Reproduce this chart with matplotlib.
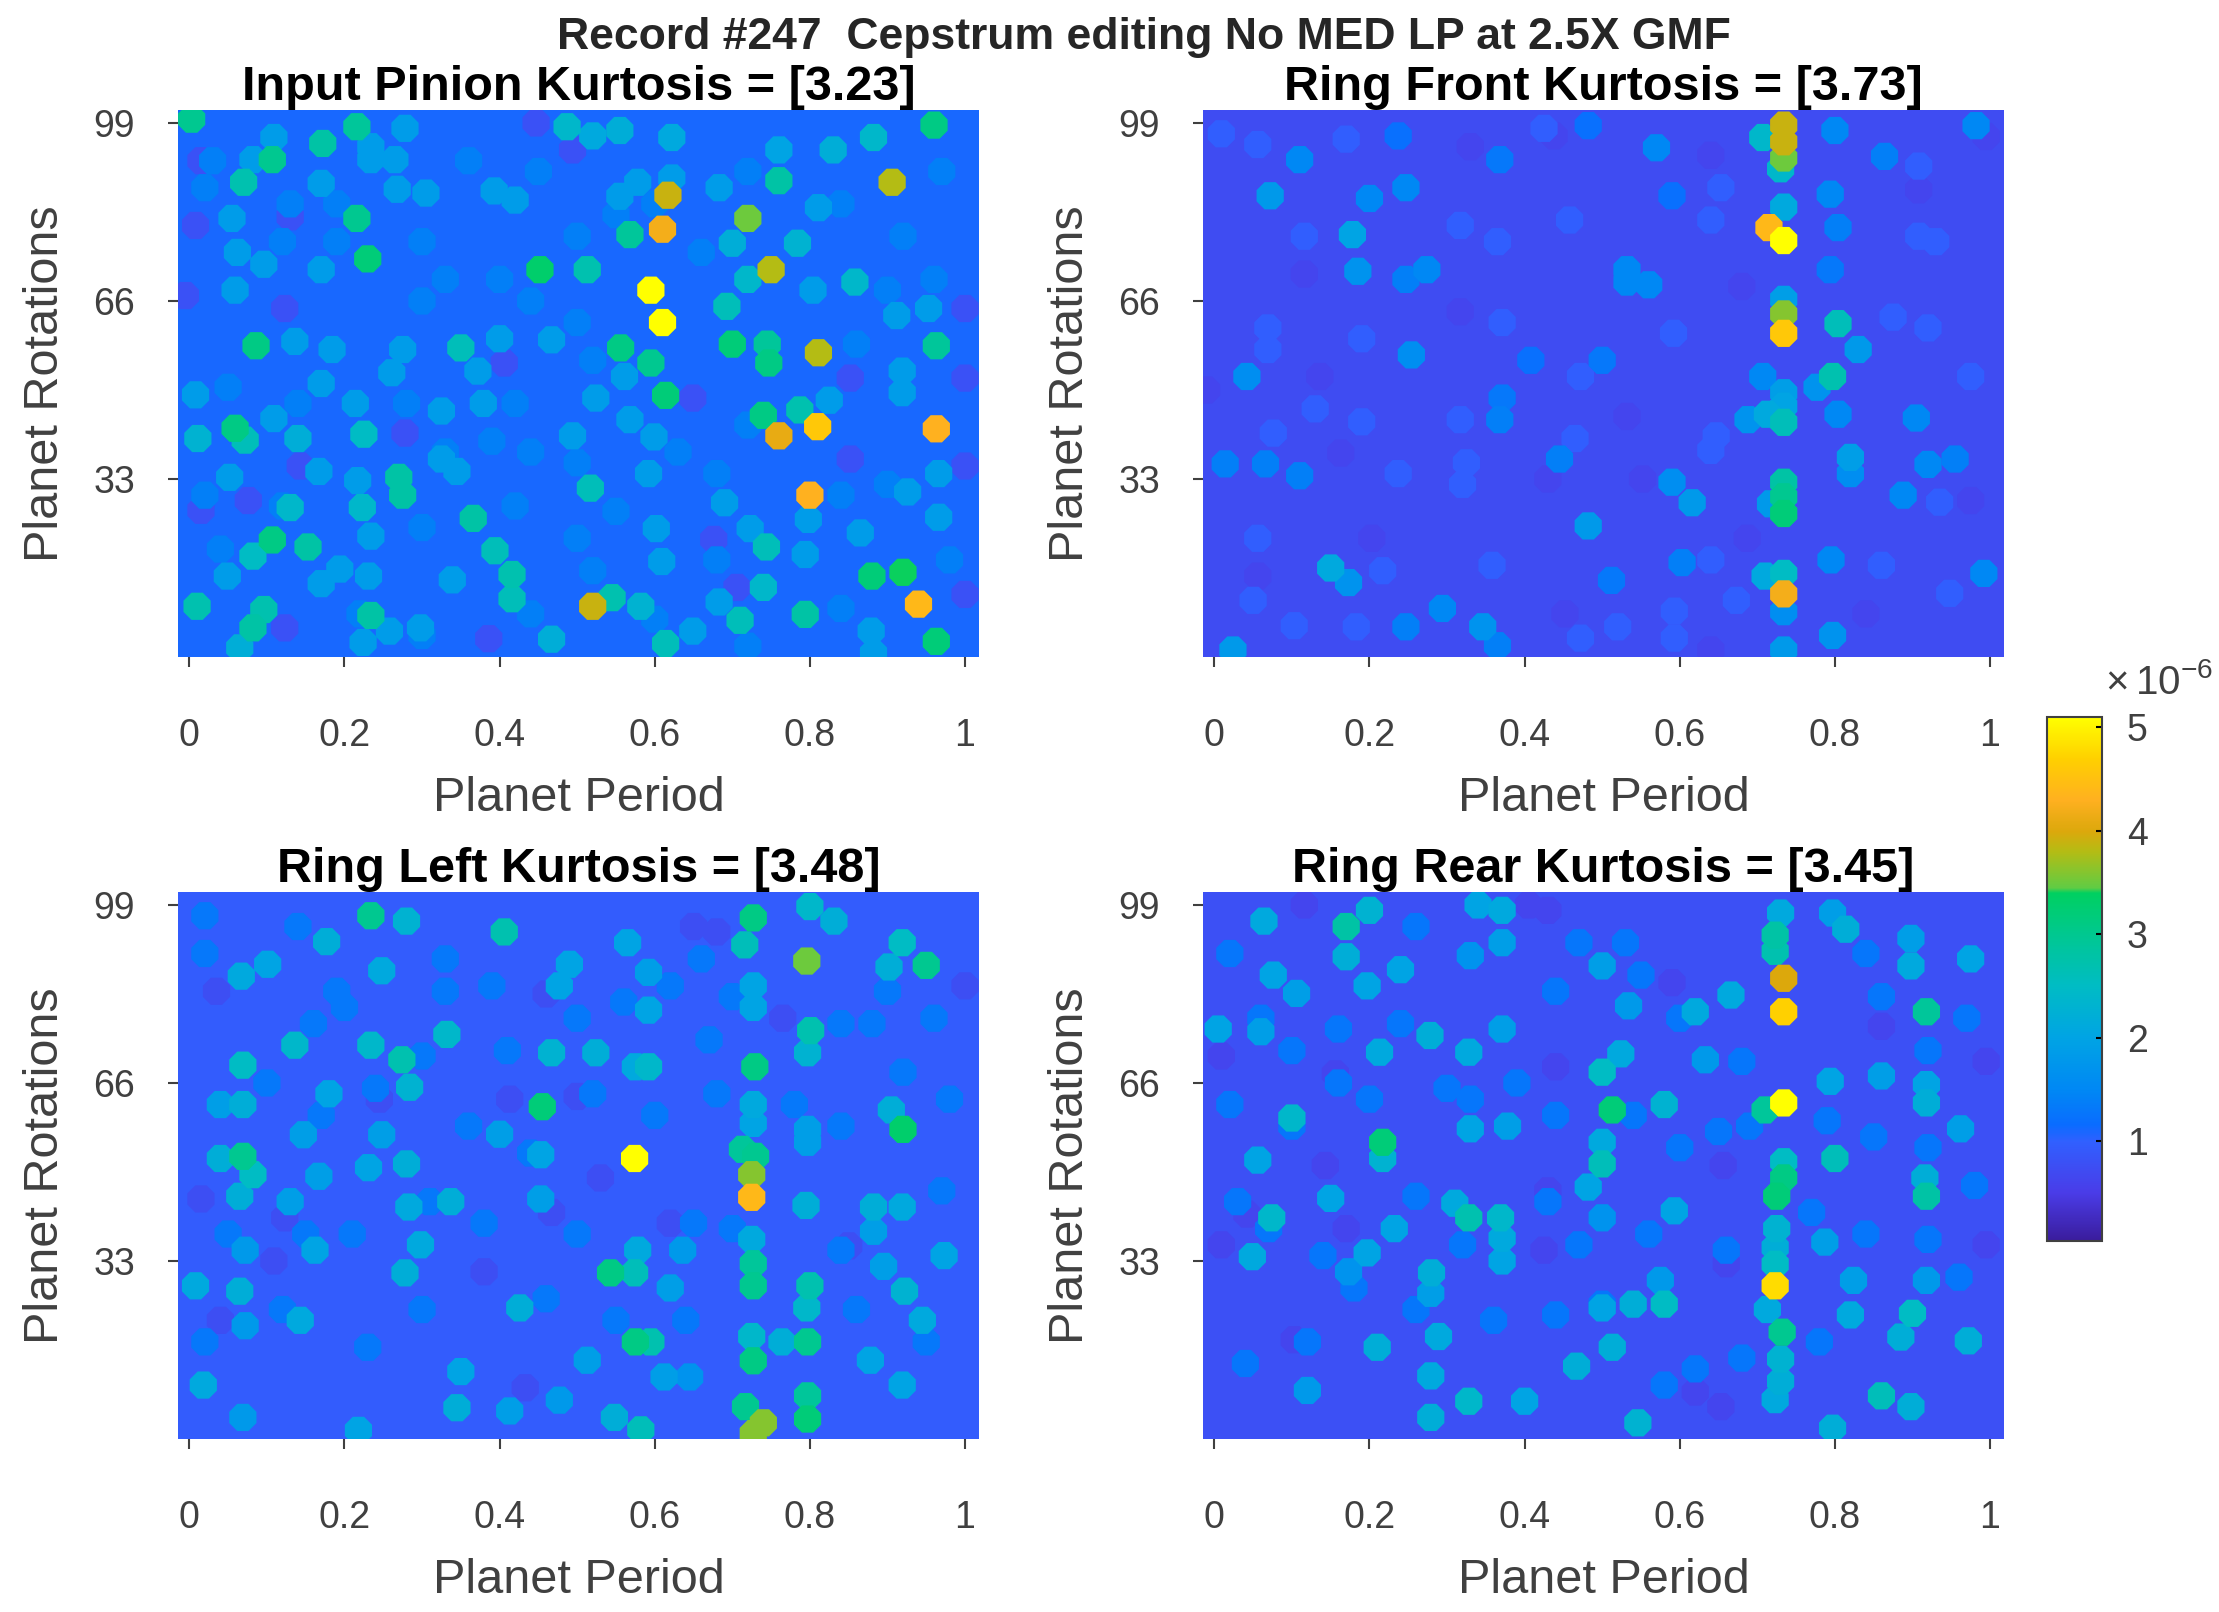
import matplotlib
matplotlib.use("Agg")

import numpy as np
import matplotlib.pyplot as plt
from matplotlib.cm import ScalarMappable
from matplotlib.colors import LinearSegmentedColormap, Normalize

plt.rcParams["font.family"] = ["Liberation Sans", "DejaVu Sans"]
plt.rcParams["mathtext.fontset"] = "custom"
plt.rcParams["mathtext.rm"] = "Liberation Sans"
plt.rcParams["mathtext.default"] = "regular"

# Labels
suptitle = "Record #247  Cepstrum editing No MED LP at 2.5X GMF"
titles = ["Input Pinion Kurtosis = [3.23]", "Ring Front Kurtosis = [3.73]",
          "Ring Left Kurtosis = [3.48]", "Ring Rear Kurtosis = [3.45]"]
x_ticks = [0, 0.2, 0.4, 0.6, 0.8, 1]
x_tick_labels = ["0", "0.2", "0.4", "0.6", "0.8", "1"]
y_ticks = [33, 66, 99]
cbar_ticks = [1, 2, 3, 4, 5]

# Input Pinion, values x 1e-6
pinion_x = [.003, .216, .172, .107, .07, .96, .487, .555, .52, .622, .882, .83, .76, .906, .617, .76, .72, .61, .568, .70,
            .784, .216, .23, .452, .513, .75, .72, .858, .595, .61, .693, .70, .745, .747, .556, .595, .614, .811, .963, .086,
            .35, .74, .787, .81, .76, .963, .059, .072, .011, .225, .14, .80, .27, .275, .517, .13, .223, .366, .107, .153,
            .082, .416, .416, .394, .744, .92, .88, .94, .52, .545, .963, .794, .74, .71, .582, .01, .096, .082, .234, .614,
            .467, .065]
pinion_y = [99.7, 98.3, 95.2, 92.2, 88, 98.6, 98.3, 97.6, 96.6, 96.3, 96.3, 94, 94, 88, 85.6, 88.3, 81.3, 79.3, 78.3, 76.7,
            76.7, 81.3, 73.8, 71.8, 71.8, 71.8, 70, 69.5, 68, 62, 65, 58, 58, 54.5, 57.3, 54.5, 48.5, 56.4, 57.7, 57.7,
            57.3, 44.8, 45.8, 42.7, 41, 42.3, 42.4, 40.2, 40.5, 41.3, 40.5, 30, 33.3, 30, 31.3, 27.7, 27.7, 25.7, 21.7, 20.4,
            18.7, 15.3, 10.8, 19.7, 20.4, 15.7, 15, 9.8, 9.4, 11, 2.9, 7.9, 12.9, 6.8, 9.4, 9.4, 8.8, 5.4, 7.7, 2.5,
            3.3, 1.7]
pinion_v = [3.0, 2.9, 2.8, 3.0, 2.7, 3.1, 2.4, 2.2, 2.1, 2.1, 2.4, 2.2, 2.0, 3.8, 3.9, 2.8, 3.5, 4.2, 2.9, 2.2,
            2.3, 3.0, 3.2, 3.3, 2.7, 3.8, 2.4, 2.4, 5.1, 5.1, 2.6, 3.2, 2.9, 3.1, 3.1, 3.0, 3.2, 3.8, 2.9, 3.1,
            2.6, 3.1, 2.7, 4.6, 4.1, 4.3, 3.1, 2.6, 2.3, 2.5, 2.2, 4.3, 2.8, 2.8, 2.6, 2.4, 2.4, 2.8, 3.1, 2.8,
            2.5, 2.7, 2.6, 2.6, 2.6, 3.4, 3.2, 4.4, 3.9, 2.7, 3.2, 2.8, 2.4, 2.6, 2.3, 2.7, 2.7, 2.8, 2.8, 2.6,
            2.2, 2.2]
# lighter spots, all read at about 1.9
pinion_mid_x = [.055, .062, .096, .17, .059, .136, .184, .275, .40, .467, .261, .17, .008, .109, .214, .325, .379, .494, .524, .568,
                .599, .561, .372, .919, .825, .919, .966, .926, .966, .592, .69, .723, .865, .794, .602, .609, .683, .17, .231, .194,
                .325, .345, .217, .052, .167, .234, .339, .049, .298, .258, .224, .649, .879, .882, .798, .953, .912, .804, .811, .683,
                .622, .578, .555, .42, .393, .305, .268, .17, .109, .234, .234, .265, .278, .082]
pinion_mid_y = [81.3, 75, 72.8, 71.8, 68, 58.5, 57, 57, 59, 58.8, 52.7, 50.7, 48.6, 44.2, 47, 45.6, 47, 41, 48, 44,
                40.8, 52, 53, 53, 47.6, 49, 34, 30.6, 25.9, 34, 28.6, 23.8, 23, 19, 23.8, 17.7, 10.2, 13.6, 15, 16.3,
                36.7, 34.4, 32.7, 33.3, 34.4, 22.4, 14.3, 15, 5.4, 4.8, 2.7, 4.8, 4.8, .7, 25.5, 64.6, 63.3, 68, 83.3, 87,
                88.8, 88, 85.4, 84.7, 86.4, 86, 86.7, 87.8, 96.3, 94.6, 92.2, 92.2, 98, 92.2]
# plain blue blobs, about 1.45
pinion_dim_x = [.03, .02, .13, .19, .12, .19, .30, .33, .40, .30, .44, .50, .52, .50, .45, .36, .55, .60, .66, .72,
                .84, .92, .97, .90, .96, .86, .72, .63, .68, .50, .44, .39, .33, .05, .14, .28, .42, .02, .12, .30,
                .42, .50, .55, .68, .84, .90, .98, .30, .52, .60, .72, .84, .04, .22, .44]
pinion_dim_y = [92, 87, 84, 84, 77, 77, 77, 70, 70, 66, 66, 62, 55, 78, 90, 92, 82, 84, 75, 90,
                84, 78, 90, 68, 70, 58, 43, 38, 34, 36, 38, 40, 38, 50, 47, 47, 47, 30, 28, 24,
                28, 22, 27, 18, 30, 32, 18, 4, 16, 7, 2, 9, 20, 8, 8]
# darker patches between the spots
pinion_low_x = [.008, .13, .406, .649, 1.0, 1.0, .386, .123, .015, .076, .143, .278, .447, .494, .015, 1.0, .852, 1.0, -.005, .123,
                .852, .676, .706]
pinion_low_y = [80, 81.6, 54.5, 48, 51.7, 64.6, 3.4, 5.4, 27.2, 29, 35.4, 41.5, 99, 94, 92, 35.4, 51.7, 11.6, 67, 64.6,
                36.7, 21.8, 12.9]

# Ring Front
front_x = [.734, .734, .734, .73, .707, .734, .715, .734, .734, .734, .734, .804, .83, .797, .777, .707, .734, .734, .734, .713,
           .688, .734, .734, .734, .717, .734, .71, .734, .734, .734, .797, .795, .82, .82, .804, .905, .92, .955, .888, .992,
           .982, .80, .794, .804, .864, .794, .072, .11, .20, .247, .237, .178, .185, .247, .274, .532, .532, .56, .57, .482,
           .368, .254, .042, .014, .066, .11, .15, .173, .024, .294, .346, .365, .247, .512, .482, .59, .616, .603, .408, .59,
           .368, .371, .445, .50]
front_y = [98.6, 95.5, 92.5, 90.5, 96.3, 83.4, 79.6, 77.2, 66.3, 63.6, 60, 61.8, 57, 52, 50, 52, 49, 46.5, 43.5, 45,
           44, 32.4, 29.7, 26.6, 28.4, 15.5, 15, 11.7, 8.4, 1.3, 4, 18, 37, 34, 45, 44.3, 35.7, 36.7, 30, 15.5,
           98.5, 97.6, 85.8, 79.6, 92.8, 71.8, 85.5, 92.2, 85, 87, 96.6, 78.3, 71.5, 70, 71.8, 71.8, 69.5, 69, 94.4, 98.5,
           92.2, 56, 52, 35.8, 35.8, 33.6, 16.5, 13.8, 1.3, 9, 5.6, 2.1, 5.6, 14.2, 24.3, 32.4, 28.6, 17.5, 55, 85.5,
           44, 48, 36.7, 55]
front_v = [3.9, 3.9, 3.5, 2.4, 2.4, 2.1, 4.4, 5.1, 1.9, 3.6, 4.6, 2.6, 1.8, 2.7, 1.7, 1.5, 1.9, 2.0, 2.6, 2.1,
           1.7, 2.8, 3.0, 3.2, 1.8, 2.5, 2.1, 4.2, 1.6, 1.8, 1.7, 1.5, 1.9, 1.6, 1.5, 1.5, 1.5, 1.4, 1.5, 1.5,
           1.5, 1.5, 1.5, 1.4, 1.4, 1.3, 1.8, 1.5, 1.5, 1.5, 1.2, 2.0, 1.7, 1.4, 1.5, 1.5, 1.5, 1.5, 1.5, 1.2,
           1.3, 1.6, 1.6, 1.4, 1.4, 1.4, 2.1, 1.7, 1.8, 1.5, 1.7, 1.4, 1.4, 1.3, 1.8, 1.6, 1.8, 1.4, 1.2, 1.2,
           1.4, 1.3, 1.4, 1.3]
# faint streaks, all read at about 1.0
front_mid_x = [.069, .069, .076, .19, .19, .13, .317, .237, .32, .371, .472, .592, .647, .653, .64, .458, .317, .009, .056, .17,
               .425, .365, .116, .908, .93, .875, .92, .908, .975, .935, .948, .86, .64, .056, .05, .103, .183, .358, .217, .52,
               .472, .593, .673, .593, .325, .465, .64]
front_mid_y = [61, 57, 41.5, 59, 43.6, 46, 44, 34, 32, 62, 52, 60, 41, 87, 81, 81, 80, 97, 95, 96,
               98, 77, 78, 78, 77, 63, 61, 91, 52, 28.7, 11.8, 17, 18, 22, 10.5, 5.8, 5.6, 17, 16, 5.6,
               3.5, 3.5, 10.5, 8.5, 36, 40.5, 38.3]
front_low_x = [.33, .438, .116, .163, .43, .136, .532, .68, -.01, .995, .908, .64, .317, .552, .056, .203, .687, .975, .84, .64, .452]
front_low_y = [94.6, 96.6, 71, 37.8, 33, 52, 44.6, 68.7, 49.5, 96.5, 86.6, 93, 64, 33, 15, 22, 22, 29, 8, 1.3, 8]

# Ring Left
left_x = [.574, .725, .725, .713, .73, .455, .92, .905, .727, .716, .796, .95, .919, .902, .234, .28, .406, .177, .80, .831,
          .729, .801, .797, .727, .727, .727, .727, .069, .136, .234, .274, .332, .067, .101, .248, .069, .04, .18, .284, .069,
          .04, .082, .065, .147, .248, .28, .231, .167, .283, .337, .13, .298, .162, .072, .278, .065, .008, .453, .453, .40,
          .467, .524, .592, .575, .592, .592, .49, .477, .565, .797, .797, .795, .882, .919, .882, .973, .895, .922, .945, .878,
          .919, .80, .796, .797, .764, .727, .727, .725, .725, .727, .717, .74, .727, .797, .797, .582, .548, .575, .595, .543,
          .574, .578, .62, .636, .426, .345, .413, .477, .018, .35, .143, .513, .612, .645, .072, .218, .069]
left_y = [52, 44.8, 49, 53.7, 52.4, 61.6, 57.4, 61, 96.6, 91.6, 88.6, 87.8, 92, 87.5, 97, 96, 94, 92.2, 98.7, 96,
          69, 75.7, 71.6, 84, 80, 62, 58.5, 69.3, 73, 73, 70.3, 75, 85.8, 88, 86.8, 62, 62, 64, 65.2, 52.4,
          52, 49, 45, 56.4, 56.4, 51, 50.3, 48.7, 43, 44, 44, 36, 35, 35, 30.8, 27.4, 28.4, 52.7, 44.5, 56.5,
          71.6, 71.6, 69, 69, 86.5, 79.5, 88, 84, 92, 57.4, 55, 43.3, 43, 43, 38.5, 34, 32, 27.4, 22, 14.6,
          10, 28.4, 24.3, 18, 18, 32.5, 28.4, 37, 19, 14.5, 6, 3, 1, 8, 3.7, 1.7, 4, 18, 18, 30.8,
          30.8, 35, 28, 35, 24.3, 5.8, 5.2, 7.2, 10, 12.5, 22, 14.6, 11.5, 11.5, 21, 1.6, 4]
left_v = [5.1, 4.4, 3.6, 2.9, 3.0, 3.2, 3.3, 2.2, 3.1, 2.6, 3.5, 3.0, 2.5, 2.2, 3.0, 2.3, 2.7, 2.2, 2.4, 2.2,
          3.1, 2.7, 2.3, 2.0, 2.0, 2.1, 2.0, 2.5, 2.4, 2.4, 2.7, 2.4, 2.1, 2.0, 2.1, 2.2, 1.9, 2.0, 2.3, 3.0,
          2.2, 2.5, 2.2, 1.9, 1.9, 2.2, 2.0, 1.9, 2.1, 2.2, 1.9, 2.1, 2.0, 1.8, 2.2, 2.2, 2.1, 2.0, 1.9, 1.9,
          2.3, 2.2, 2.4, 2.1, 1.9, 2.0, 2.0, 2.0, 2.0, 1.9, 1.9, 2.2, 2.2, 2.1, 1.9, 2.0, 1.9, 2.3, 2.1, 2.0,
          2.0, 2.7, 2.4, 3.0, 2.2, 2.9, 3.0, 2.1, 2.4, 3.1, 3.0, 3.6, 3.6, 2.9, 3.2, 2.6, 2.2, 3.1, 2.7, 3.1,
          2.6, 2.1, 1.9, 1.8, 2.2, 2.2, 1.9, 1.8, 2.1, 2.0, 2.1, 1.9, 1.9, 1.7, 1.8, 2.0, 1.8]
# blue patches, all read at about 1.3
left_mid_x = [.02, .02, .14, .16, .19, .20, .33, .33, .39, .41, .50, .56, .62, .66, .67, .70, .84, .88, .90, .96,
              .10, .17, .24, .30, .36, .44, .52, .60, .68, .78, .84, .92, .98, .05, .15, .21, .31, .38, .50, .65,
              .70, .84, .97, .02, .12, .23, .30, .46, .55, .64, .86, .95]
left_mid_y = [97, 90, 95, 77, 83, 80, 89, 83, 84, 72, 78, 81, 84, 89, 74, 82, 77, 77, 83, 78,
              66, 60, 65, 71, 58, 53, 64, 60, 64, 62, 58, 68, 63, 38, 38, 38, 44, 40, 38, 40,
              39, 35, 46, 18, 24, 17, 24, 26, 22, 22, 24, 18]
left_low_x = [.46, .035, .245, .413, .50, .015, .123, .62, .467, .85, .765, 1.0, .65, .04, .109, .433, .38, .53, .68]
left_low_y = [82.5, 83, 63, 63, 63.5, 44.5, 41, 40, 42, 35.8, 78, 84, 95, 22, 33, 9.5, 31, 48.4, 94]

# Ring Rear
rear_x = [.734, .71, .734, .734, .723, .723, .723, .73, .734, .725, .734, .725, .723, .723, .713, .732, .73, .73, .723, .80,
          .918, .918, .916, .918, .918, .90, .86, .898, .797, .972, .885, .82, .824, .918, .787, .86, .794, .962, .898, .975,
          .814, .797, .898, .513, .50, .524, .50, .50, .482, .58, .62, .666, .633, .593, .58, .54, .50, .513, .467, .546,
          .575, .50, .50, .534, .217, .217, .20, .17, .064, .17, .197, .076, .106, .24, .005, .06, .10, .056, .074, .15,
          .049, .328, .31, .369, .371, .371, .28, .279, .197, .232, .33, .378, .213, .278, .328, .371, .371, .33, .34, .371,
          .21, .289, .279, .328, .279, .40, .12, .173]
rear_y = [62.3, 61, 79.2, 85.4, 28.4, 93.4, 90.4, 97.5, 48.4, 45, 51.4, 39, 32.4, 35.5, 24, 19.8, 14.8, 10.7, 7.3, 52,
          79.2, 45, 48.4, 62.3, 65.7, 23.3, 8, 6, 2, 18.2, 18.9, 23, 29.4, 29.4, 36.5, 67.3, 66.3, 57.5, 87.7, 89,
          94.5, 97.5, 92.8, 61, 68, 71.4, 55, 51, 46.7, 62, 79.2, 82.3, 70.3, 42.3, 25, 25, 24.3, 17, 13.5, 3,
          29.4, 41, 87.7, 80.3, 55, 52, 98, 95, 96, 89.4, 84, 86, 82.6, 87, 76, 75.5, 59.5, 51.7, 41, 44.6,
          33.8, 41, 43.7, 41, 37.2, 33, 30.8, 27, 34.5, 39, 57.5, 58, 71.7, 74.8, 71.7, 92, 76, 89.6, 99, 98,
          17, 19, 11.7, 7, 4, 7, 9, 31]
rear_v = [5.1, 2.9, 4.7, 4.0, 4.8, 2.8, 2.7, 2.1, 3.1, 3.2, 2.5, 2.3, 2.5, 2.2, 2.1, 3.0, 2.3, 2.2, 2.1, 2.6,
          2.9, 2.8, 2.2, 2.2, 2.0, 2.5, 2.6, 2.2, 2.2, 2.2, 2.2, 2.1, 1.9, 1.8, 1.9, 1.9, 2.0, 1.9, 2.1, 2.0,
          2.2, 1.9, 1.9, 3.2, 2.5, 2.1, 2.1, 2.6, 2.0, 2.3, 2.1, 2.1, 1.8, 2.0, 2.5, 2.2, 2.0, 2.2, 2.2, 2.3,
          1.8, 1.7, 1.9, 1.8, 3.2, 2.3, 2.3, 2.8, 2.1, 2.2, 2.0, 2.0, 1.9, 2.0, 2.0, 1.9, 2.4, 2.0, 2.4, 2.0,
          2.1, 2.7, 2.1, 2.4, 2.1, 2.0, 2.2, 1.9, 2.0, 2.0, 2.0, 1.9, 2.1, 2.2, 2.1, 1.9, 1.9, 1.7, 2.0, 2.1,
          2.2, 2.1, 2.1, 2.4, 2.2, 2.0, 1.8, 1.7]
# blue patches, all read at about 1.3
rear_mid_x = [.02, .06, .10, .16, .24, .26, .30, .44, .47, .53, .55, .60, .68, .84, .86, .92, .97, .02, .10, .16,
              .20, .33, .39, .44, .54, .60, .65, .69, .79, .85, .92, .98, .03, .07, .14, .26, .32, .43, .47, .56,
              .66, .77, .84, .92, .04, .12, .18, .26, .36, .44, .50, .58, .62, .68, .78, .96]
rear_mid_y = [90, 78, 72, 76, 77, 95, 65, 83, 92, 92, 86, 78, 70, 90, 82, 72, 78, 62, 58, 66,
              63, 63, 66, 60, 60, 54, 57, 58, 59, 56, 54, 47, 44, 39, 34, 45, 36, 44, 36, 38,
              35, 42, 38, 37, 14, 18, 28, 24, 22, 23, 25, 10, 13, 15, 18, 30]
rear_low_x = [.116, .405, .995, .995, .009, .042, .17, .43, .44, .59, .656, .66, .143, .156, .62, .653, .009, .103, .425, .43, .86]
rear_low_y = [99, 99, 70, 36, 36, 41.7, 39, 46, 69, 84.6, 50.7, 32.5, 50.7, 67.7, 8.7, 6, 71, 18.4, 35, 98, 76.5]

# Per panel background level (value of the axes colour)
background = [1.1, 0.72, 0.95, 0.78]

# Low tone values
pinion_mid_v = 1.85
pinion_dim_v = 1.4
pinion_low_v = 0.8
front_mid_v = 0.98
front_low_v = 0.62
left_mid_v = 1.3
left_low_v = 0.75
rear_mid_v = 1.28
rear_low_v = 0.62

# Colour scale
cmap_points = [(0.035, "#3a1c9c"), (0.5, "#4a3ce8"), (1.0, "#3060ff"), (1.15, "#0a6cff"), (1.5, "#0088f4"),
               (2.0, "#00a4e4"), (2.5, "#00bcc4"), (3.0, "#00c890"), (3.4, "#00d060"), (3.45, "#60cc44"),
               (3.8, "#b4bc14"), (4.0, "#dca80c"), (4.3, "#ffb020"), (4.7, "#ffd000"), (5.1, "#ffff00")]
vmin, vmax = 0.035, 5.1
cmap = LinearSegmentedColormap.from_list(
    "scale", [((v - vmin) / (vmax - vmin), c) for v, c in cmap_points], N=512)
norm = Normalize(vmin, vmax)

W, H = 2219, 1612
fig = plt.figure(figsize=(W / 100, H / 100), dpi=100, facecolor="white")

# axes boxes in full image pixels: left, top, right, bottom
boxes = [(178, 110, 979, 657), (1203, 110, 2004, 657),
         (178, 892, 979, 1439), (1203, 892, 2004, 1439)]

panels = [
    ([pinion_low_x, pinion_dim_x, pinion_mid_x, pinion_x], [pinion_low_y, pinion_dim_y, pinion_mid_y, pinion_y],
     [[pinion_low_v] * len(pinion_low_x), [pinion_dim_v] * len(pinion_dim_x),
      [pinion_mid_v] * len(pinion_mid_x), pinion_v]),
    ([front_low_x, front_mid_x, front_x], [front_low_y, front_mid_y, front_y],
     [[front_low_v] * len(front_low_x), [front_mid_v] * len(front_mid_x), front_v]),
    ([left_low_x, left_mid_x, left_x], [left_low_y, left_mid_y, left_y],
     [[left_low_v] * len(left_low_x), [left_mid_v] * len(left_mid_x), left_v]),
    ([rear_low_x, rear_mid_x, rear_x], [rear_low_y, rear_mid_y, rear_y],
     [[rear_low_v] * len(rear_low_x), [rear_mid_v] * len(rear_mid_x), rear_v]),
]

gray = "#404040"
for i, (box, (xs, ys, vs)) in enumerate(zip(boxes, panels)):
    l, t, r, b = box
    ax = fig.add_axes([l / W, 1 - b / H, (r - l) / W, (b - t) / H])
    ax.set_facecolor(cmap(norm(background[i])))

    x = np.concatenate(xs)
    y = np.concatenate(ys)
    v = np.concatenate([np.asarray(a, float) for a in vs])
    order = np.argsort(v)  # brightest on top
    ax.scatter(x[order], y[order], c=v[order], cmap=cmap, norm=norm,
               s=450, marker="8", linewidths=0)

    ax.set_xlim(-0.0146, 1.018)
    ax.set_ylim(0, 101.4)
    ax.set_xticks(x_ticks)
    ax.set_xticklabels(x_tick_labels)
    ax.set_yticks(y_ticks)
    ax.tick_params(axis="x", direction="out", length=7, width=1.5, color=gray,
                   labelcolor=gray, labelsize=27, pad=37)
    ax.tick_params(axis="y", direction="out", length=7, width=1.5, color=gray,
                   labelcolor=gray, labelsize=27, pad=24)
    for s in ax.spines.values():
        s.set_visible(False)

    ax.set_title(titles[i], fontsize=35, fontweight="bold", color="black", pad=5)
    ax.set_xlabel("Planet Period", fontsize=35, color=gray)
    ax.set_ylabel("Planet Rotations", fontsize=35, color=gray)
    ax.xaxis.set_label_coords(0.5, -0.258)
    ax.xaxis.label.set_verticalalignment("center")
    ax.yaxis.set_label_coords(-0.166, 0.5)
    ax.yaxis.label.set_verticalalignment("center")

fig.text(0.5155, 1 - 37 / H, suptitle, fontsize=32, fontweight="bold",
         color="#262626", ha="center", va="center")

# colorbar
cax = fig.add_axes([2047 / W, 1 - 1241 / H, 55 / W, 524 / H])
sm = ScalarMappable(norm=norm, cmap=cmap)
cb = fig.colorbar(sm, cax=cax)
cb.set_ticks(cbar_ticks)
cb.ax.tick_params(direction="in", length=4, width=1.5, color="black",
                  labelcolor=gray, labelsize=27, pad=18)
cb.outline.set_edgecolor(gray)
cb.outline.set_linewidth(1.5)
fig.text(2105 / W, 1 - 683 / H, r"$\times\,10^{-6}$", fontsize=29, color=gray,
         ha="left", va="center")

fig.savefig("out.png", dpi=100)
plt.close(fig)
